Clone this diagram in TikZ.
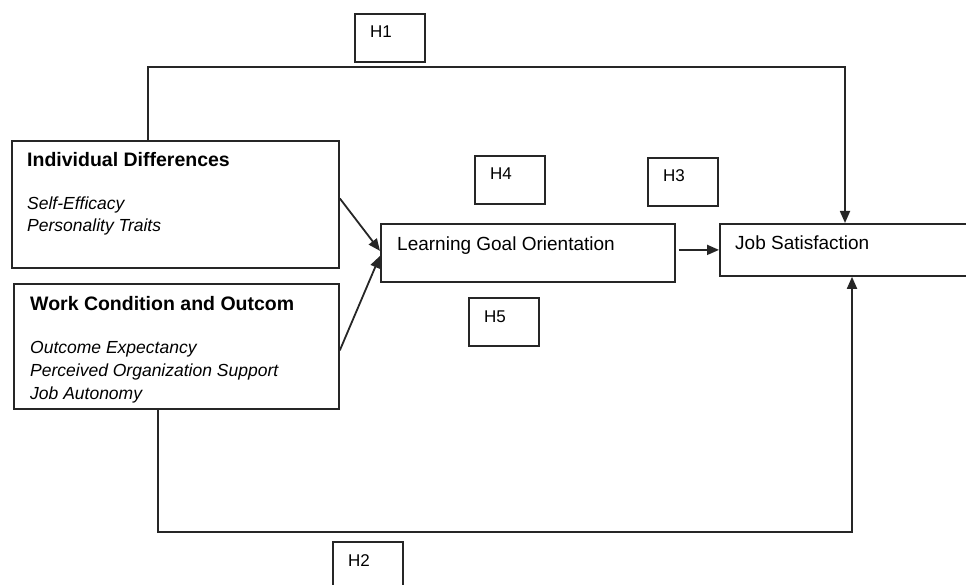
\documentclass[tikz,border=0pt]{standalone}
\usepackage{fontspec}
\setmainfont{Liberation Sans}
\usetikzlibrary{arrows.meta,positioning}

\newlength{\hypwidth}
\newlength{\hypheight}
\setlength{\hypwidth}{70pt}
\setlength{\hypheight}{48pt}

\tikzset{
  frame/.style={draw=black!85, line width=1.8pt, rectangle, inner sep=0pt, anchor=north west},
  link/.style={draw=black!85, line width=1.8pt},
  arrowlink/.style={link, -{Triangle[length=12pt,width=10pt]}},
  headtext/.style={anchor=base west, inner sep=0pt, font=\fontsize{19.5}{22}\selectfont\bfseries},
  itemtext/.style={anchor=base west, inner sep=0pt, font=\fontsize{17.5}{21}\selectfont\itshape},
  plaintext/.style={anchor=base west, inner sep=0pt, font=\fontsize{19}{22}\selectfont},
  hyptext/.style={anchor=base west, inner sep=0pt, font=\fontsize{17}{20}\selectfont},
}

\newcommand{\hypbox}[4]{%kwargs name, x0, y0 (top left), label
  \node[frame, minimum width=\hypwidth, minimum height=\hypheight] (#1) at (#2,#3) {};
  \node[hyptext] (#1txt) at ([xshift=16pt, yshift=-25pt]#1.north west) {#4};
}

\begin{document}
\begin{tikzpicture}[x=1pt, y=-1pt]
    \useasboundingbox (0,0) rectangle (966,585);
    \clip (0,0) rectangle (966,585);
    %individual differences
    \node[frame, minimum width=327pt, minimum height=127pt] (indiv) at (11,140) {};
    \node[headtext] (indivhead) at ([xshift=16pt, yshift=-27pt]indiv.north west) {Individual Differences};
    \node[itemtext] (indivone) at ([xshift=16pt, yshift=-70pt]indiv.north west) {Self-Efficacy};
    \node[itemtext] (indivtwo) at ([xshift=16pt, yshift=-92pt]indiv.north west) {Personality Traits};
    %work condition and outcome
    \node[frame, minimum width=325pt, minimum height=125pt] (work) at (13,283) {};
    \node[headtext] (workhead) at ([xshift=17pt, yshift=-27pt]work.north west) {Work Condition and Outcom};
    \node[itemtext] (workone) at ([xshift=17pt, yshift=-70pt]work.north west) {Outcome Expectancy};
    \node[itemtext] (worktwo) at ([xshift=17pt, yshift=-93pt]work.north west) {Perceived Organization Support};
    \node[itemtext] (workthree) at ([xshift=17pt, yshift=-116pt]work.north west) {Job Autonomy};
    %mediator and outcome
    \node[frame, minimum width=294pt, minimum height=58pt] (lgo) at (380,223) {};
    \node[plaintext] (lgotxt) at ([xshift=17pt, yshift=-28pt]lgo.north west) {Learning Goal Orientation};
    \node[frame, minimum width=280pt, minimum height=52pt] (jobsat) at (719,223) {};
    \node[plaintext] (jobsattxt) at ([xshift=16pt, yshift=-27pt]jobsat.north west) {Job Satisfaction};
    %hypotheses
    \hypbox{hone}{354}{13}{H1}
    \hypbox{hfour}{474}{155}{H4}
    \hypbox{hthree}{647}{157}{H3}
    \hypbox{hfive}{468}{297}{H5}
    \hypbox{htwo}{332}{541}{H2}
    %direct path on top
    \coordinate (topleft) at (148,67);
    \coordinate (topright) at (845,67);
    \draw[arrowlink] (topleft |- indiv.north) -- (topleft) -- (topright) -- (jobsat.north -| topright);
    %direct path below
    \coordinate (botleft) at (158,532);
    \coordinate (botright) at (852,532);
    \draw[arrowlink] (botleft |- work.south) -- (botleft) -- (botright) -- (jobsat.south -| botright);
    %paths through the mediator
    \draw[arrowlink] ([yshift=6pt]indiv.east) -- ([yshift=2pt]lgo.west);
    \draw[arrowlink] ([yshift=-4pt]work.east) -- ([yshift=-3pt]lgo.west);
    \draw[arrowlink] ([xshift=3pt]lgo.east |- jobsat.west) -- (jobsat.west);
\end{tikzpicture}
\end{document}
